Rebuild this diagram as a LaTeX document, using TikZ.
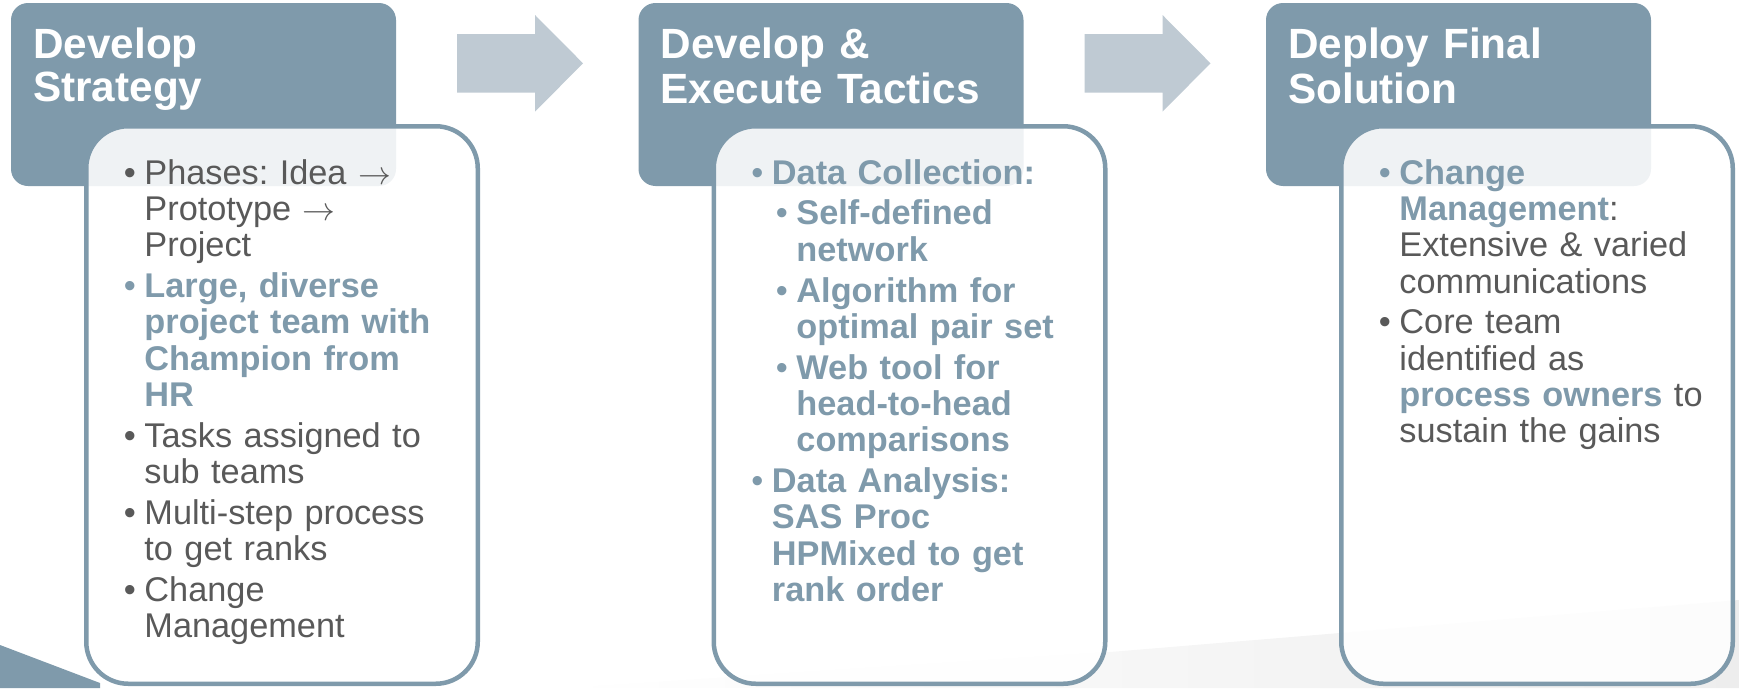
\documentclass[tikz,border=0pt]{standalone}
\usepackage{graphicx}
\usepackage{fontspec}
\setmainfont{Liberation Sans}
\usetikzlibrary{positioning}

\definecolor{slate}{HTML}{7F9AAB}
\definecolor{steel}{HTML}{BFCAD3}
\definecolor{ink}{HTML}{595959}

% bullet items with hanging indent
\newcommand{\itm}[2]{\hangindent=20.5pt\hangafter=1\noindent\strut\makebox[20.5pt][l]{\color{#1}\textbullet}#2\par}
\newcommand{\subitm}[2]{\hangindent=45pt\hangafter=1\noindent\strut\hspace*{24.5pt}\makebox[20.5pt][l]{\color{#1}\textbullet}#2\par}
\newcommand{\hot}[1]{{\bfseries\color{slate}#1}}
\newcommand{\thento}{\scalebox{1.32}{$\rightarrow$}}

\begin{document}
\frenchspacing
\begin{tikzpicture}[x=1pt, y=-1pt,
    phasebox/.style={fill=slate, rounded corners=17pt, minimum width=385pt, minimum height=183pt, inner sep=0pt, outer sep=0pt},
    cardbox/.style={draw=slate, line width=4.5pt, fill=white, fill opacity=0.88, rounded corners=42pt, minimum width=391.5pt, minimum height=557.5pt, outer sep=0pt},
    phasetitle/.style={text=white, font=\bfseries\fontsize{42.3}{43}\selectfont, align=left, text width=370pt, inner sep=0pt},
    cardtext/.style={text=ink, font=\fontsize{34.3}{36.3}\selectfont, align=left, text width=345pt, inner sep=0pt, execute at begin node={\setlength{\parskip}{4.5pt}}}]
    \useasboundingbox (0,0) rectangle (1739,688);
    \clip (0,0) rectangle (1739,688);

    % background swooshes
    \fill[slate] (0,645) -- (100,683) -- (100,688) -- (0,688) -- cycle;
    \shade[left color=white, right color=black!7] (560,688) -- (1110,652) -- (1739,600) -- (1739,688) -- cycle;

    % phase headers
    \foreach \i/\x in {1/203.5, 2/831, 3/1458.5}
        \node[phasebox] (h\i) at (\x,94.5) {};

    % arrows between phases
    \foreach \dx in {0,627.5}
        \fill[steel, shift={(\dx,0)}] (457,34) -- (535,34) -- (535,15) -- (583,63.3) -- (535,111.7) -- (535,92.7) -- (457,92.7) -- cycle;

    % cards
    \foreach \i/\x in {1/282, 2/909.5, 3/1537}
        \node[cardbox] (c\i) at (\x,405) {};

    % titles
    \node[phasetitle, below right=24.9pt and 22pt of h1.north west] (t1) {\strut Develop\\Strategy};
    \node[phasetitle, below right=24.9pt and 22pt of h2.north west] (t2) {\strut Develop \&\\Execute Tactics};
    \node[phasetitle, below right=24.9pt and 22pt of h3.north west] (t3) {\strut Deploy Final\\Solution};

    % card contents
    \node[cardtext, below right=32.3pt and 37.5pt of c1.north west] (b1) {%
        \itm{ink}{Phases: Idea \thento\newline Prototype \thento\newline Project}%
        \itm{slate}{\hot{Large, diverse\newline project team with\newline Champion from\newline HR}}%
        \itm{ink}{Tasks assigned to\newline sub teams}%
        \itm{ink}{Multi-step process\newline to get ranks}%
        \itm{ink}{Change\newline Management}};
    \node[cardtext, below right=32.3pt and 37.5pt of c2.north west] (b2) {%
        \itm{slate}{\hot{Data Collection:}}%
        \subitm{slate}{\hot{Self-defined\newline network}}%
        \subitm{slate}{\hot{Algorithm for\newline optimal pair set}}%
        \subitm{slate}{\hot{Web tool for\newline head-to-head\newline comparisons}}%
        \itm{slate}{\hot{Data Analysis:\newline SAS Proc\newline HPMixed to get\newline rank order}}};
    \node[cardtext, below right=32.3pt and 37.5pt of c3.north west] (b3) {%
        \itm{slate}{\hot{Change\newline Management}:\newline Extensive \& varied\newline communications}%
        \itm{ink}{Core team\newline identified as\newline \hot{process owners} to\newline sustain the gains}};
\end{tikzpicture}
\end{document}
